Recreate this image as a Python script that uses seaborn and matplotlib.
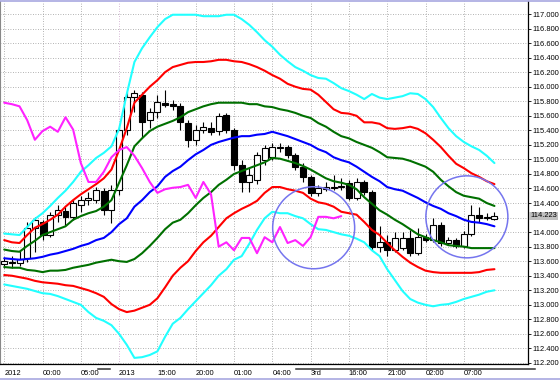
import matplotlib
matplotlib.use("Agg")
import matplotlib.pyplot as plt
from matplotlib.patches import Ellipse, Rectangle
from matplotlib.lines import Line2D
import numpy as np
import pandas as pd
import seaborn as sns

# hourly candles (one value per bar)
opens = [113.56, 113.59, 113.58, 113.64, 114.06, 114.14, 113.96, 114.24, 114.29, 114.21,
         114.37, 114.44, 114.44, 114.57, 114.30, 114.58, 115.41, 115.86, 115.89, 115.54,
         115.65, 115.78, 115.76, 115.73, 115.50, 115.27, 115.41, 115.43, 115.39, 115.61,
         115.41, 114.92, 114.69, 114.72, 114.99, 115.03, 115.16, 115.17, 115.06, 114.90,
         114.76, 114.54, 114.59, 114.61, 114.62, 114.68, 114.47, 114.69, 114.55, 113.80,
         113.86, 113.75, 113.78, 113.92, 113.71, 113.93, 113.89, 114.10, 113.85, 113.89,
         113.81, 113.97, 114.24, 114.19, 114.18]
highs = [113.66, 113.67, 113.75, 114.14, 114.21, 114.17, 114.28, 114.37, 114.35, 114.44,
         114.50, 114.55, 114.62, 114.61, 114.65, 115.45, 115.93, 115.96, 115.93, 115.71,
         115.89, 115.96, 115.82, 115.78, 115.54, 115.47, 115.51, 115.51, 115.64, 115.64,
         115.43, 114.99, 114.88, 115.10, 115.20, 115.23, 115.23, 115.20, 115.09, 114.95,
         114.79, 114.65, 114.69, 114.79, 114.74, 114.72, 114.74, 114.72, 114.58, 114.08,
         113.96, 114.00, 114.00, 114.03, 114.06, 113.97, 114.19, 114.14, 113.93, 113.92,
         114.02, 114.37, 114.35, 114.26, 114.28]
lows = [113.51, 113.51, 113.53, 113.59, 113.73, 113.89, 113.93, 114.14, 114.10, 114.17,
        114.28, 114.37, 114.40, 114.24, 114.13, 114.51, 115.34, 115.65, 115.29, 115.43,
        115.57, 115.72, 115.68, 115.41, 115.17, 115.20, 115.36, 115.34, 115.34, 115.36,
        114.85, 114.55, 114.55, 114.66, 114.92, 114.99, 115.10, 115.02, 114.85, 114.69,
        114.50, 114.50, 114.57, 114.58, 114.58, 114.44, 114.44, 114.51, 113.75, 113.73,
        113.67, 113.73, 113.75, 113.67, 113.69, 113.86, 113.86, 113.81, 113.82, 113.78,
        113.78, 113.95, 114.14, 114.17, 114.17]
closes = [113.60, 113.58, 113.63, 114.06, 114.17, 113.96, 114.24, 114.30, 114.21, 114.40,
          114.44, 114.47, 114.58, 114.30, 114.58, 115.41, 115.86, 115.91, 115.51, 115.65,
          115.79, 115.75, 115.73, 115.51, 115.27, 115.41, 115.45, 115.38, 115.60, 115.41,
          114.92, 114.69, 114.79, 115.06, 115.16, 115.17, 115.17, 115.06, 114.90, 114.76,
          114.54, 114.61, 114.62, 114.62, 114.63, 114.47, 114.69, 114.55, 113.80, 113.86,
          113.75, 113.92, 113.92, 113.71, 113.93, 113.89, 114.10, 113.85, 113.89, 113.81,
          113.97, 114.24, 114.19, 114.21, 114.223]

# bollinger bands (+-1, 2, 3 sigma and middle line)
bb_up3 = [113.98, 113.97, 113.96, 114.07, 114.18, 114.26, 114.36, 114.47, 114.57, 114.69,
          114.83, 114.92, 115.02, 115.09, 115.18, 115.42, 115.90, 116.34, 116.53, 116.68,
          116.82, 116.93, 116.99, 116.99, 116.99, 116.99, 116.97, 116.97, 116.97, 116.99,
          116.99, 116.93, 116.85, 116.75, 116.64, 116.55, 116.44, 116.35, 116.27, 116.22,
          116.16, 116.12, 116.11, 116.05, 115.98, 115.94, 115.89, 115.83, 115.90, 115.85,
          115.83, 115.85, 115.87, 115.91, 115.90, 115.83, 115.72, 115.57, 115.43, 115.32,
          115.24, 115.18, 115.13, 115.05, 114.95]
bb_up2 = [113.89, 113.86, 113.85, 113.96, 114.06, 114.11, 114.17, 114.24, 114.35, 114.44,
          114.52, 114.59, 114.66, 114.74, 114.86, 115.13, 115.43, 115.78, 115.89, 116.00,
          116.09, 116.20, 116.27, 116.30, 116.33, 116.34, 116.34, 116.35, 116.37, 116.37,
          116.35, 116.34, 116.31, 116.27, 116.22, 116.16, 116.11, 116.04, 116.00, 115.97,
          115.96, 115.89, 115.79, 115.69, 115.64, 115.63, 115.60, 115.51, 115.51, 115.49,
          115.43, 115.42, 115.43, 115.45, 115.42, 115.36, 115.27, 115.17, 115.05, 114.94,
          114.88, 114.81, 114.76, 114.70, 114.66]
bb_up1 = [113.76, 113.74, 113.73, 113.81, 113.88, 113.96, 114.00, 114.04, 114.08, 114.17,
          114.22, 114.26, 114.29, 114.35, 114.44, 114.68, 114.92, 115.18, 115.29, 115.39,
          115.45, 115.49, 115.53, 115.58, 115.65, 115.69, 115.73, 115.76, 115.78, 115.78,
          115.78, 115.78, 115.76, 115.76, 115.73, 115.72, 115.69, 115.67, 115.64, 115.60,
          115.57, 115.50, 115.45, 115.38, 115.32, 115.29, 115.24, 115.20, 115.16, 115.10,
          115.03, 115.02, 115.01, 114.98, 114.94, 114.90, 114.83, 114.72, 114.63, 114.55,
          114.50, 114.48, 114.46, 114.40, 114.36]
bb_mid = [113.64, 113.63, 113.62, 113.63, 113.64, 113.66, 113.69, 113.71, 113.74, 113.77,
          113.81, 113.84, 113.89, 113.92, 114.00, 114.11, 114.19, 114.35, 114.44, 114.55,
          114.63, 114.76, 114.84, 114.90, 114.99, 115.07, 115.13, 115.20, 115.24, 115.27,
          115.30, 115.32, 115.32, 115.34, 115.35, 115.38, 115.35, 115.32, 115.28, 115.24,
          115.20, 115.14, 115.10, 115.03, 114.99, 114.96, 114.90, 114.83, 114.76, 114.70,
          114.62, 114.59, 114.57, 114.52, 114.47, 114.41, 114.36, 114.32, 114.26, 114.22,
          114.17, 114.14, 114.13, 114.11, 114.08]
bb_dn1 = [113.52, 113.51, 113.51, 113.48, 113.47, 113.45, 113.47, 113.47, 113.48, 113.51,
          113.53, 113.55, 113.58, 113.60, 113.62, 113.60, 113.59, 113.63, 113.71, 113.81,
          113.92, 114.04, 114.13, 114.17, 114.26, 114.37, 114.47, 114.55, 114.65, 114.72,
          114.80, 114.84, 114.88, 114.92, 114.96, 115.02, 115.01, 114.98, 114.95, 114.91,
          114.86, 114.80, 114.74, 114.70, 114.68, 114.65, 114.59, 114.48, 114.39, 114.30,
          114.24, 114.17, 114.11, 114.04, 113.97, 113.93, 113.89, 113.86, 113.82, 113.81,
          113.80, 113.78, 113.78, 113.78, 113.78]
bb_dn2 = [113.41, 113.40, 113.38, 113.36, 113.33, 113.31, 113.30, 113.29, 113.27, 113.26,
          113.23, 113.20, 113.16, 113.11, 113.01, 112.94, 112.90, 112.92, 112.96, 113.00,
          113.09, 113.24, 113.40, 113.51, 113.60, 113.74, 113.86, 113.95, 114.07, 114.19,
          114.26, 114.32, 114.37, 114.43, 114.54, 114.62, 114.62, 114.59, 114.57, 114.54,
          114.46, 114.41, 114.39, 114.35, 114.28, 114.26, 114.24, 114.14, 114.03, 113.96,
          113.85, 113.75, 113.66, 113.58, 113.52, 113.47, 113.45, 113.44, 113.44, 113.44,
          113.44, 113.44, 113.45, 113.48, 113.49]
bb_dn3 = [113.28, 113.26, 113.24, 113.22, 113.19, 113.16, 113.15, 113.12, 113.08, 113.04,
          113.00, 112.90, 112.82, 112.78, 112.72, 112.60, 112.45, 112.27, 112.28, 112.31,
          112.36, 112.56, 112.74, 112.82, 112.94, 113.05, 113.16, 113.27, 113.40, 113.49,
          113.62, 113.67, 113.84, 114.03, 114.19, 114.28, 114.26, 114.26, 114.22, 114.19,
          114.11, 114.04, 114.03, 114.00, 113.97, 113.95, 113.91, 113.86, 113.75, 113.67,
          113.49, 113.34, 113.19, 113.08, 113.03, 113.00, 112.98, 113.00, 113.01, 113.04,
          113.08, 113.11, 113.14, 113.18, 113.20]

# lagging (chikou) line, ends 20 bars before the last candle
lagging = [115.78, 115.76, 115.73, 115.54, 115.27, 115.39, 115.45, 115.38, 115.58, 115.41,
           114.95, 114.69, 114.69, 114.83, 115.03, 115.13, 115.17, 115.05, 114.88, 114.69,
           114.54, 114.59, 114.61, 114.62, 114.65, 114.47, 114.69, 114.52, 113.80, 113.86,
           113.75, 113.92, 113.92, 113.71, 113.93, 113.86, 114.07, 113.85, 113.89, 113.81,
           113.93, 114.21, 114.21, 114.19, 114.22]

time_labels = ["2012", "00:00", "05:00", "2013", "15:00", "20:00", "01:00",
               "04:00", "3rd", "16:00", "21:00", "02:00", "07:00"]
time_pos = list(range(0, 65, 5))

# the two hand drawn circles: (bar, price)
circles = [(40.4, 114.06), (60.4, 114.21)]

sns.set_style("white")
plt.rcParams['font.family'] = ['Liberation Sans', 'DejaVu Sans']

fig = plt.figure(figsize=(5.6, 3.8), dpi=100)
ax = fig.add_axes([0, 16 / 380, 528 / 560, 363 / 380])
ax.set_facecolor('white')

idx = np.arange(len(closes))
o = np.array(opens)
c = np.array(closes)
h = np.array(highs)
l = np.array(lows)

# grid
yticks = np.round(np.arange(112.2, 117.01, 0.2), 1)
for v in yticks:
    ax.axhline(v, color='#9a9a9a', lw=0.6, ls=(0, (1, 2)), zorder=1)
for p in time_pos:
    gcol = '#c9a3c9' if p == 15 else '#9a9a9a'
    ax.axvline(p, color=gcol, lw=0.6, ls=(0, (1, 2)), zorder=1)

# candles
up = c >= o
body_bot = np.minimum(o, c)
body_h = np.maximum(np.abs(c - o), 0.012)
ax.vlines(idx, l, h, color='black', lw=0.8, zorder=3)
ax.bar(idx[up], body_h[up], bottom=body_bot[up], width=0.78, color='white',
       edgecolor='black', linewidth=0.8, zorder=4)
ax.bar(idx[~up], body_h[~up], bottom=body_bot[~up], width=0.78, color='black',
       edgecolor='black', linewidth=0.8, zorder=4)

# bands
bands = pd.DataFrame({'bar': idx, 'up3': bb_up3, 'up2': bb_up2, 'up1': bb_up1,
                      'mid': bb_mid, 'dn1': bb_dn1, 'dn2': bb_dn2, 'dn3': bb_dn3})
band_colors = {'up3': '#22ffff', 'dn3': '#22ffff', 'up2': '#ff0000', 'dn2': '#ff0000',
               'up1': '#007000', 'dn1': '#007000', 'mid': '#0000ff'}
for col, colr in band_colors.items():
    sns.lineplot(data=bands, x='bar', y=col, color=colr, lw=1.5, ax=ax,
                 legend=False, zorder=5)

sns.lineplot(x=idx[:len(lagging)], y=lagging, color='#ff22ff', lw=1.5, ax=ax,
             legend=False, zorder=5)

for cx, cy in circles:
    ax.add_patch(Ellipse((cx, cy), 82 / 7.66, 82 * 0.013755, fill=False,
                         edgecolor='#7575ee', lw=1.1, zorder=6))

ax.set_xlim(-0.55, 68.38)
ax.set_ylim(112.186, 117.179)
ax.set_xlabel('')
ax.set_ylabel('')

# right price scale
ax.yaxis.tick_right()
ax.set_yticks(yticks)
ax.set_yticklabels(['' if abs(v - 114.2) < 1e-6 else f'{v:.3f}' for v in yticks])
ax.tick_params(axis='y', length=2, width=0.6, pad=1.5, labelsize=5.4,
               colors='black', right=True, left=False)
ax.set_xticks([])
for sp in ['top']:
    ax.spines[sp].set_visible(False)
ax.spines['left'].set_color('#888888')
ax.spines['left'].set_linewidth(0.8)
for sp in ['right', 'bottom']:
    ax.spines[sp].set_color('black')
    ax.spines[sp].set_linewidth(0.9)

# current price label
ax.text(1.004, closes[-1], f'{closes[-1]:.3f}', transform=ax.get_yaxis_transform(),
        ha='left', va='center', fontsize=5.4, color='black', zorder=10,
        bbox=dict(boxstyle='square,pad=0.12', fc='#c0c0c0', ec='none'))

# time labels
for p, lab in zip(time_pos, time_labels):
    ax.text(p, -0.025, lab, transform=ax.get_xaxis_transform(), ha='left',
            va='center', fontsize=5.4, color='black')

# window bits below the plot
fig.patches.append(Rectangle((528 / 560, 0), 32 / 560, 14 / 380, transform=fig.transFigure,
                             fc='white', ec='none', zorder=1))
for yy in (367.6, 369.4):
    for x0, x1 in ((97, 110), (295, 535)):
        fig.lines.append(Line2D([x0 / 560, x1 / 560], [1 - yy / 380] * 2,
                                transform=fig.transFigure, color='#444444', lw=0.6, zorder=2))
fig.lines.append(Line2D([0, 1], [1 - 379 / 380] * 2, transform=fig.transFigure,
                        color='#a8a8e0', lw=1.2, zorder=2))
fig.lines.append(Line2D([0, 1], [1 - 0.5 / 380] * 2, transform=fig.transFigure,
                        color='#a8a8e0', lw=1.2, zorder=2))

fig.savefig('out.png', dpi=100)
